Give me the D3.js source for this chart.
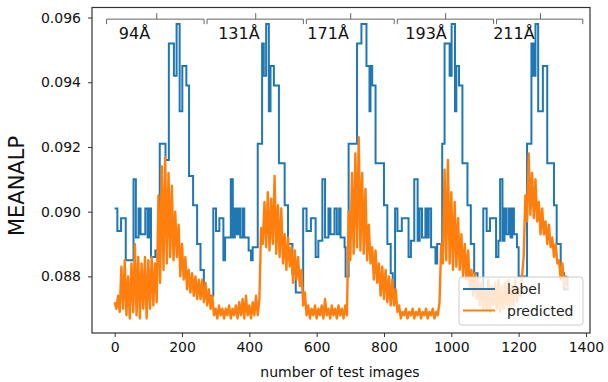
<!DOCTYPE html>
<html>
<head>
<meta charset="utf-8">
<script src="https://cdn.jsdelivr.net/npm/d3@7"></script>
<style>
  body { margin: 0; background: #fff; }
  svg { display: block; font-family: "DejaVu Sans", sans-serif; }
</style>
</head>
<body>
<svg id="chart" width="608" height="382"></svg>
<script>
// label: step function, value holds from each start index until the next one
const labelStart = [
  0, 8, 19, 33, 56, 63, 71, 77, 91, 98, 104, 108, 121, 128, 134, 151, 161, 176, 184, 193, 201, 213, 221, 233, 245, 255, 265,
  293, 301, 311, 323, 328, 345, 351, 357, 362, 368, 373, 380, 385, 398, 405, 410, 425, 438, 443, 450, 458, 463, 473, 488, 505, 515, 528, 538,
  560, 570, 583, 597, 605, 617, 625, 635, 641, 653, 660, 667, 671, 683, 686, 695, 720, 733, 748, 757, 760, 765, 775, 800, 810, 820, 826,
  833, 840, 853, 873, 880, 890, 900, 906, 913, 923, 928, 933, 940, 953, 958, 973, 980, 995, 1001, 1011, 1015, 1023, 1033, 1048, 1058, 1068, 1078,
  1095, 1105, 1115, 1133, 1140, 1145, 1152, 1158, 1163, 1170, 1176, 1181, 1186, 1195, 1200, 1225, 1238, 1244, 1250, 1258, 1272, 1285, 1305, 1313, 1325, 1335, 1345
];
const labelValue = [
  0.0901, 0.0894, 0.0898, 0.0885, 0.0910, 0.0892, 0.0901, 0.0893, 0.0901, 0.0892, 0.0901, 0.0886, 0.0888, 0.0885, 0.0921, 0.0916, 0.0952, 0.0942, 0.0958, 0.0931, 0.0945, 0.0939, 0.0911, 0.0902, 0.0890, 0.0882, 0.0874,
  0.0901, 0.0894, 0.0898, 0.0885, 0.0892, 0.0910, 0.0892, 0.0901, 0.0893, 0.0901, 0.0892, 0.0901, 0.0892, 0.0888, 0.0885, 0.0889, 0.0921, 0.0952, 0.0942, 0.0958, 0.0931, 0.0945, 0.0939, 0.0915, 0.0902, 0.0890, 0.0881, 0.0875,
  0.0901, 0.0894, 0.0898, 0.0886, 0.0891, 0.0910, 0.0892, 0.0901, 0.0893, 0.0901, 0.0893, 0.0901, 0.0892, 0.0889, 0.0880, 0.0921, 0.0952, 0.0958, 0.0945, 0.0931, 0.0945, 0.0939, 0.0915, 0.0902, 0.0890, 0.0881, 0.0875,
  0.0901, 0.0894, 0.0898, 0.0886, 0.0891, 0.0910, 0.0891, 0.0901, 0.0892, 0.0901, 0.0892, 0.0901, 0.0889, 0.0884, 0.0890, 0.0921, 0.0952, 0.0942, 0.0958, 0.0931, 0.0945, 0.0939, 0.0915, 0.0902, 0.0890, 0.0881, 0.0876,
  0.0901, 0.0894, 0.0898, 0.0886, 0.0891, 0.0910, 0.0891, 0.0901, 0.0893, 0.0901, 0.0892, 0.0901, 0.0893, 0.0889, 0.0880, 0.0921, 0.0952, 0.0942, 0.0958, 0.0931, 0.0945, 0.0915, 0.0902, 0.0890, 0.0881, 0.0876, 0.0880
];

// predicted, read every 5 test images (index = i * 5)
const predStep = 5;
const predicted = [
  0.0872, 0.0870, 0.0874, 0.0869, 0.0883, 0.0870, 0.0885, 0.0868, 0.0880, 0.0867,
  0.0884, 0.0869, 0.0890, 0.0868, 0.0886, 0.0867, 0.0884, 0.0870, 0.0886, 0.0867,
  0.0885, 0.0870, 0.0886, 0.0871, 0.0884, 0.0872, 0.0905, 0.0878, 0.0914, 0.0882,
  0.0917, 0.0884, 0.0912, 0.0886, 0.0908, 0.0885, 0.0900, 0.0886, 0.0896, 0.0880,
  0.0890, 0.0879, 0.0886, 0.0876, 0.0882, 0.0875, 0.0881, 0.0874, 0.0880, 0.0873,
  0.0879, 0.0873, 0.0879, 0.0872, 0.0878, 0.0871, 0.0876, 0.0870, 0.0874, 0.0868,
  0.0870, 0.0867, 0.0871, 0.0868, 0.0870, 0.0867, 0.0870, 0.0868, 0.0871, 0.0867,
  0.0870, 0.0868, 0.0871, 0.0867, 0.0872, 0.0868, 0.0873, 0.0867, 0.0874, 0.0868,
  0.0871, 0.0867, 0.0872, 0.0868, 0.0874, 0.0868, 0.0873, 0.0895, 0.0890, 0.0903,
  0.0889, 0.0906, 0.0888, 0.0904, 0.0890, 0.0911, 0.0887, 0.0902, 0.0886, 0.0901,
  0.0884, 0.0893, 0.0882, 0.0892, 0.0883, 0.0889, 0.0878, 0.0888, 0.0879, 0.0886,
  0.0877, 0.0882, 0.0871, 0.0875, 0.0868, 0.0871, 0.0867, 0.0870, 0.0868, 0.0871,
  0.0867, 0.0870, 0.0868, 0.0871, 0.0867, 0.0873, 0.0868, 0.0870, 0.0867, 0.0871,
  0.0868, 0.0870, 0.0867, 0.0871, 0.0868, 0.0870, 0.0867, 0.0871, 0.0868, 0.0900,
  0.0885, 0.0912, 0.0887, 0.0918, 0.0889, 0.0923, 0.0888, 0.0912, 0.0887, 0.0907,
  0.0885, 0.0896, 0.0884, 0.0889, 0.0879, 0.0888, 0.0878, 0.0884, 0.0874, 0.0883,
  0.0873, 0.0882, 0.0872, 0.0880, 0.0871, 0.0879, 0.0871, 0.0876, 0.0869, 0.0871,
  0.0867, 0.0869, 0.0868, 0.0870, 0.0867, 0.0869, 0.0868, 0.0870, 0.0867, 0.0869,
  0.0868, 0.0870, 0.0867, 0.0869, 0.0868, 0.0870, 0.0867, 0.0869, 0.0868, 0.0870,
  0.0867, 0.0869, 0.0868, 0.0872, 0.0890, 0.0884, 0.0913, 0.0885, 0.0916, 0.0884,
  0.0906, 0.0882, 0.0903, 0.0883, 0.0898, 0.0882, 0.0893, 0.0880, 0.0890, 0.0879,
  0.0888, 0.0876, 0.0882, 0.0874, 0.0881, 0.0873, 0.0879, 0.0871, 0.0878, 0.0870,
  0.0876, 0.0870, 0.0879, 0.0869, 0.0877, 0.0871, 0.0878, 0.0870, 0.0879, 0.0869,
  0.0877, 0.0870, 0.0878, 0.0871, 0.0879, 0.0870, 0.0877, 0.0871, 0.0879, 0.0872,
  0.0876, 0.0874, 0.0880, 0.0886, 0.0905, 0.0897, 0.0918, 0.0899, 0.0912, 0.0898,
  0.0910, 0.0897, 0.0903, 0.0893, 0.0901, 0.0893, 0.0897, 0.0890, 0.0896, 0.0889,
  0.0892, 0.0886, 0.0890, 0.0884, 0.0885, 0.0879, 0.0884, 0.0877, 0.0880, 0.0876
];

// wavelength brackets along the top (in test image index)
const bandNames = ["94Å", "131Å", "171Å", "193Å", "211Å"];
const bandEdges = [-24, 270, 565, 835, 1130, 1395];
const bandMids = [125, 419, 701, 983, 1265];
const bandLabelX = [59, 369, 634, 925, 1186];

const xTicks = [0, 200, 400, 600, 800, 1000, 1200, 1400];
const yTicks = [0.088, 0.090, 0.092, 0.094, 0.096];

const svg = d3.select("#chart");
const m = { left: 92, right: 590, top: 7.5, bottom: 333 };

const x = d3.scaleLinear().domain([-67.3, 1412]).range([m.left, m.right]);
const y = d3.scaleLinear().domain([0.08625, 0.09631]).range([m.bottom, m.top]);

const blue = "#1f77b4", orange = "#ff7f0e";

// axes
const xAxis = svg.append("g")
  .attr("transform", `translate(0,${m.bottom})`)
  .call(d3.axisBottom(x).tickValues(xTicks).tickSize(4).tickPadding(5).tickFormat(d3.format("d")));
const yAxis = svg.append("g")
  .attr("transform", `translate(${m.left},0)`)
  .call(d3.axisLeft(y).tickValues(yTicks).tickSize(4).tickPadding(7).tickFormat(d3.format(".3f")));
[xAxis, yAxis].forEach(a => {
  a.select(".domain").remove();
  a.selectAll("text").attr("font-size", 14).attr("font-family", "DejaVu Sans").attr("fill", "#111");
  a.selectAll("line").attr("stroke", "#333");
});

// lines
const labelData = labelStart.map((s, i) => [s, labelValue[i]]);
const predData = predicted.map((v, i) => [i * predStep, v]);

const plot = svg.append("g");
plot.append("path")
  .datum(labelData)
  .attr("fill", "none")
  .attr("stroke", blue)
  .attr("stroke-width", 2)
  .attr("d", d3.line().x(d => x(d[0])).y(d => y(d[1])).curve(d3.curveStepAfter));
plot.append("path")
  .datum(predData)
  .attr("fill", "none")
  .attr("stroke", orange)
  .attr("stroke-width", 2.4)
  .attr("stroke-linejoin", "round")
  .attr("d", d3.line().x(d => x(d[0])).y(d => y(d[1])));

// frame
svg.append("rect")
  .attr("x", m.left).attr("y", m.top)
  .attr("width", m.right - m.left).attr("height", m.bottom - m.top)
  .attr("fill", "none").attr("stroke", "#333").attr("stroke-width", 1.2);

// brackets
const yBar = 0.09595;
const br = svg.append("g").attr("stroke", "#555").attr("stroke-width", 0.9).attr("fill", "none");
bandNames.forEach((name, i) => {
  const x0 = x(bandEdges[i]) + (i > 0 ? 1.5 : 0), x1 = x(bandEdges[i + 1]) - 1.5;
  br.append("path").attr("d", `M${x0},${y(yBar) + 5}L${x0},${y(yBar)}L${x1},${y(yBar)}L${x1},${y(yBar) + 5}`);
  br.append("line")
    .attr("x1", x(bandMids[i])).attr("x2", x(bandMids[i]))
    .attr("y1", y(yBar)).attr("y2", y(yBar) - 6);
  svg.append("text")
    .attr("x", x(bandLabelX[i])).attr("y", 39)
    .attr("text-anchor", "middle")
    .attr("font-size", 16)
    .attr("fill", "#111")
    .text(name);
});

// axis titles
svg.append("text")
  .attr("x", 340).attr("y", 377)
  .attr("text-anchor", "middle")
  .attr("font-size", 14)
  .attr("fill", "#111")
  .text("number of test images");
svg.append("text")
  .attr("transform", "translate(24,186) rotate(-90)")
  .attr("text-anchor", "middle")
  .attr("font-size", 21)
  .attr("fill", "#111")
  .text("MEANALP");

// legend
const lg = svg.append("g").attr("transform", "translate(459,277)");
lg.append("rect")
  .attr("width", 124).attr("height", 48).attr("rx", 3)
  .attr("fill", "#fff").attr("fill-opacity", 0.8)
  .attr("stroke", "#ccc");
[["label", blue], ["predicted", orange]].forEach((d, i) => {
  lg.append("line")
    .attr("x1", 4).attr("x2", 36)
    .attr("y1", 12 + i * 21.5).attr("y2", 12 + i * 21.5)
    .attr("stroke", d[1]).attr("stroke-width", 2);
  lg.append("text")
    .attr("x", 48).attr("y", 17 + i * 21.5)
    .attr("font-size", 14)
    .attr("fill", "#222")
    .text(d[0]);
});
</script>
</body>
</html>
